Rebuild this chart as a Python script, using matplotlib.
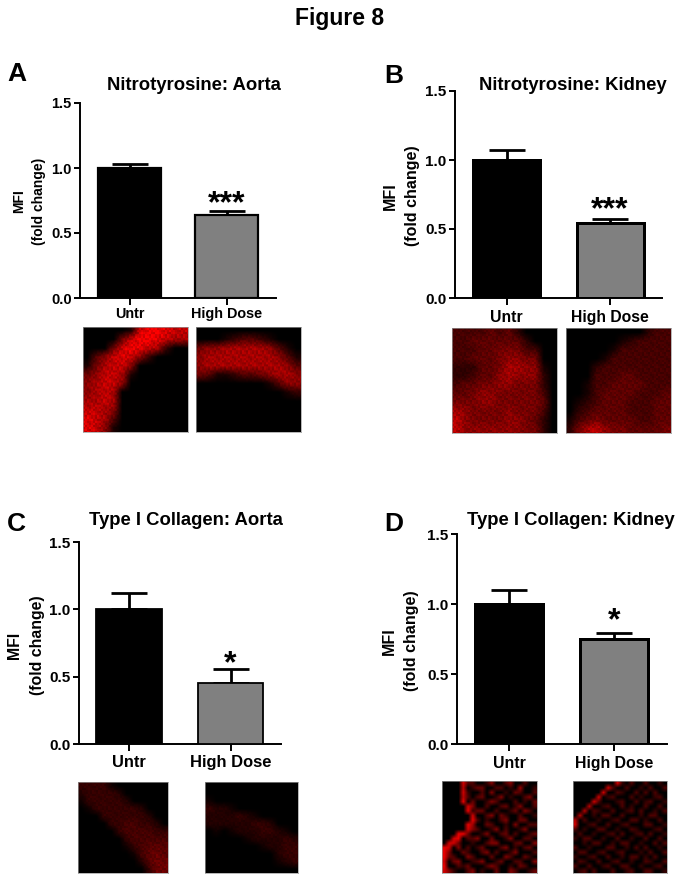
import numpy as np
import matplotlib
matplotlib.use('Agg')
import matplotlib.pyplot as plt
from matplotlib.colors import LinearSegmentedColormap

plt.rcParams['font.family'] = ['Liberation Sans', 'DejaVu Sans']
plt.rcParams['font.weight'] = 'bold'

W, H = 683, 880

groups = ['Untr', 'High Dose']
yticks = [0.0, 0.5, 1.0, 1.5]

titles = ['Nitrotyrosine: Aorta', 'Nitrotyrosine: Kidney',
          'Type I Collagen: Aorta', 'Type I Collagen: Kidney']
letters = ['A', 'B', 'C', 'D']
means = [[1.0, 0.64], [1.0, 0.545], [1.0, 0.45], [1.0, 0.75]]
errors = [[0.03, 0.03], [0.07, 0.03], [0.12, 0.11], [0.10, 0.045]]
stars = ['***', '***', '*', '*']
star_y = [0.72, 0.635, 0.59, 0.88]

# micrograph brightness, 0 = black, 9 = full red
a1 = ["000001799877", "000047998766", "000479876200", "035787520000",
      "146775000000", "457761000000", "567750000000", "567600000000",
      "667600000000", "776500000000", "876300000000", "875100000000"]
a2 = ["000000000000", "000123321000", "455666665310", "566666666531",
      "566666666653", "431123345665", "000000001355", "000000000012",
      "000000000000", "000000000000", "000000000000", "000000000000"]
b1 = ["333343420000", "334444442000", "333445553300", "334445665500",
      "222445776610", "223446766620", "344556655520", "445665555530",
      "555665555540", "765555655530", "865555665420", "866666665520"]
b2 = ["000000000233", "000000123333", "000001333333", "000013333333",
      "000233333333", "000333443333", "001334444333", "001344443334",
      "012344433344", "023444433344", "134544443344", "257865544445"]
c1 = ["333310000000", "233332000000", "133333200000", "013333332000",
      "000333333200", "000033443320", "000003444433", "000000344444",
      "000000134555", "000000014565", "000000002566", "000000000366"]
c2 = ["000000000000", "000000000000", "100000000000", "322100000000",
      "222232100000", "222222332000", "010122233210", "000001222232",
      "000000012233", "000000000233", "000000000123", "000000000000"]
d1 = ["00008330025003500300", "00007024400330206002", "00008200305002043003",
      "00007303400250200350", "00009040025300030204", "00000850030034025003",
      "00000924400300240530", "00000080035042003002", "00000093020035004400",
      "00000960043002050033", "00000853002503002500", "00099400250034030024",
      "00890335004002500330", "08840020035500034005", "98050302400035020340",
      "95004200350300250003", "94300530004005300420", "80450023500240033005",
      "90032400035300204300", "85200350200400530024"]
d2 = ["00000000082030030020", "00000008300300203003", "00000080032003030300",
      "00000802300030200230", "00008300023003023002", "00070023003020030030",
      "00703200300230300203", "07002033003000203300", "70300200230033020030",
      "80023003002300033002", "30200330020032000230", "03002002303002303002",
      "20330020030020030030", "00203300203300200303", "30020003300203030020",
      "03300230023000203003", "20023003002033020300", "03200300230020032003",
      "30030023003300200230", "02303000300230033002"]
micrographs = [[a1, a2], [b1, b2], [c1, c2], [d1, d2]]
gains = [0.95, 0.8, 0.6, 0.9]

# fine grain of the tissue, typed from the look of the dots in A and B
grain = ["37515826", "92648135", "16395742", "58217964",
         "41863529", "73952618", "26479351", "85136297"]

# pixel layout of each panel: axis left, right, top, bottom, bar centres, bar width, edge
axes_px = [(80, 276, 103, 298, 129.5, 226.5, 66, 2.2),
           (455, 662, 91, 298, 506.5, 610, 70, 3.0),
           (79, 281, 542, 744, 129, 230.5, 67, 1.8),
           (457, 667, 534, 744, 509, 614, 71, 3.0)]
title_px = [(194, 86), (573, 86), (186, 520), (571, 520)]
letter_px = [(7, 74), (384, 76), (7, 524), (384, 524)]
ylabel_px = [(29, 201), (401, 196), (26, 645), (400, 641)]
image_px = [[(83, 188, 327, 432), (196, 301, 327, 432)],
            [(452, 557, 328, 433), (566, 671, 328, 433)],
            [(78, 168, 782, 873), (205, 298, 782, 873)],
            [(442, 537, 781, 873), (573, 667, 781, 873)]]
label_size = [10.4, 11.3, 11.9, 11.4]
label_pad = [2, 3.5, 3, 3.5]
tick_size = [10.5, 11, 11, 11]
ylabel_size = [10, 11.5, 11.4, 11.5]

red = LinearSegmentedColormap.from_list('red', ['#000000', '#ff0000'])

fig = plt.figure(figsize=(W / 100, H / 100), dpi=100)


def add_px_axes(left, right, top, bottom):
    return fig.add_axes([left / W, 1 - bottom / H, (right - left) / W, (bottom - top) / H])


def micrograph_pixels(rows, width, height, gain):
    grid = np.array([[int(ch) for ch in row] for row in rows], dtype=float)
    if grid.shape[0] > 12:
        return grid * gain
    # stretch the brightness grid to pixel size and lay the grain over it
    n = grid.shape[0]
    old = (np.arange(n) + 0.5) / n
    xs = (np.arange(width) + 0.5) / width
    ys = (np.arange(height) + 0.5) / height
    wide = np.array([np.interp(xs, old, row) for row in grid])
    full = np.array([np.interp(ys, old, col) for col in wide.T]).T
    tile = np.array([[int(ch) for ch in row] for row in grain], dtype=float)
    tile = np.repeat(np.repeat(tile, 2, axis=0), 2, axis=1)
    over = np.tile(tile, (height // tile.shape[0] + 1, width // tile.shape[1] + 1))[:height, :width]
    return full * (0.82 + over * 0.04) * gain


fig.text(339.5 / W, 1 - 19 / H, 'Figure 8', ha='center', va='center', fontsize=16.5)

for i in range(4):
    left, right, top, bottom, c1_px, c2_px, bar_px, edge = axes_px[i]
    ax = add_px_axes(left, right, top, bottom)
    scale = c2_px - c1_px
    pos = [1, 2]

    ax.errorbar(pos, means[i], yerr=[[0, 0], errors[i]], fmt='none', ecolor='black',
                elinewidth=2, capsize=12.8, capthick=2, zorder=2)
    ax.bar(pos, means[i], width=(bar_px - edge) / scale, color=['black', '#808080'],
           edgecolor='black', linewidth=edge * 0.72, zorder=3)

    ax.set_xlim(1 - (c1_px - left) / scale, 2 + (right - c2_px) / scale)
    ax.set_ylim(0, 1.5)
    ax.set_yticks(yticks)
    ax.set_yticklabels(['%.1f' % t for t in yticks])
    ax.set_xticks(pos)
    ax.set_xticklabels(groups)
    ax.tick_params(axis='y', length=4.6, width=1.4, labelsize=tick_size[i], pad=1.5)
    ax.tick_params(axis='x', length=4.8, width=1.4, labelsize=label_size[i], pad=label_pad[i])
    ax.spines['top'].set_visible(False)
    ax.spines['right'].set_visible(False)
    ax.spines['left'].set_linewidth(1.4)
    ax.spines['bottom'].set_linewidth(1.4)
    ax.patch.set_alpha(0)

    ax.text(2, star_y[i], stars[i], ha='center', va='center', fontsize=23, zorder=4)

    fig.text(title_px[i][0] / W, 1 - title_px[i][1] / H, titles[i], ha='center',
             va='center', fontsize=13.3)
    fig.text(letter_px[i][0] / W, 1 - letter_px[i][1] / H, letters[i], ha='left',
             va='center', fontsize=19)
    fig.text(ylabel_px[i][0] / W, 1 - ylabel_px[i][1] / H, 'MFI\n(fold change)', rotation=90,
             ha='center', va='center', multialignment='center', fontsize=ylabel_size[i],
             linespacing=1.6)

    for j in range(2):
        l, r, t, b = image_px[i][j]
        im_ax = add_px_axes(l, r, t, b)
        pixels = micrograph_pixels(micrographs[i][j], r - l, b - t, gains[i])
        im_ax.imshow(pixels, cmap=red, vmin=0, vmax=9, aspect='auto', interpolation='bilinear')
        im_ax.set_xticks([])
        im_ax.set_yticks([])
        for s in im_ax.spines.values():
            s.set_color('#999999')
            s.set_linewidth(0.5)

fig.savefig('out.png', dpi=100)
